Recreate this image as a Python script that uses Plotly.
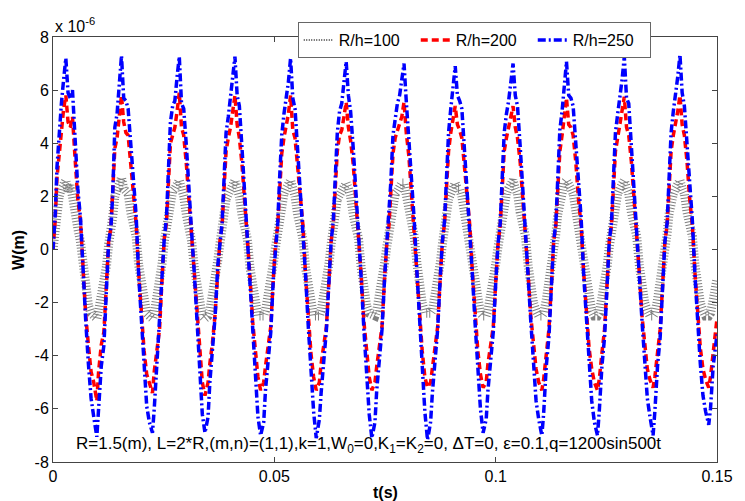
import plotly.graph_objects as go

# time samples (s)
t = [
    0.00000, 0.00050, 0.00090, 0.00140, 0.00190, 0.00240, 0.00290, 0.00340, 0.00390, 0.00440, 0.00500, 0.00560, 0.00620, 0.00680, 0.00740, 0.00800, 0.00860, 0.00920, 0.00990, 0.01030, 0.01090, 0.01150, 0.01210,
    0.01257, 0.01307, 0.01347, 0.01397, 0.01447, 0.01497, 0.01547, 0.01597, 0.01647, 0.01697, 0.01757, 0.01817, 0.01877, 0.01937, 0.01997, 0.02057, 0.02117, 0.02177, 0.02247, 0.02287, 0.02347, 0.02407, 0.02467,
    0.02513, 0.02563, 0.02603, 0.02653, 0.02703, 0.02753, 0.02803, 0.02853, 0.02903, 0.02953, 0.03013, 0.03073, 0.03133, 0.03193, 0.03253, 0.03313, 0.03373, 0.03433, 0.03503, 0.03543, 0.03603, 0.03663, 0.03723,
    0.03770, 0.03820, 0.03860, 0.03910, 0.03960, 0.04010, 0.04060, 0.04110, 0.04160, 0.04210, 0.04270, 0.04330, 0.04390, 0.04450, 0.04510, 0.04570, 0.04630, 0.04690, 0.04760, 0.04800, 0.04860, 0.04920, 0.04980,
    0.05027, 0.05077, 0.05117, 0.05167, 0.05217, 0.05267, 0.05317, 0.05367, 0.05417, 0.05467, 0.05527, 0.05587, 0.05647, 0.05707, 0.05767, 0.05827, 0.05887, 0.05947, 0.06017, 0.06057, 0.06117, 0.06177, 0.06237,
    0.06283, 0.06333, 0.06373, 0.06423, 0.06473, 0.06523, 0.06573, 0.06623, 0.06673, 0.06723, 0.06783, 0.06843, 0.06903, 0.06963, 0.07023, 0.07083, 0.07143, 0.07203, 0.07273, 0.07313, 0.07373, 0.07433, 0.07493,
    0.07540, 0.07590, 0.07630, 0.07680, 0.07730, 0.07780, 0.07830, 0.07880, 0.07930, 0.07980, 0.08040, 0.08100, 0.08160, 0.08220, 0.08280, 0.08340, 0.08400, 0.08460, 0.08530, 0.08570, 0.08630, 0.08690, 0.08750,
    0.08796, 0.08846, 0.08886, 0.08936, 0.08986, 0.09036, 0.09086, 0.09136, 0.09186, 0.09236, 0.09296, 0.09356, 0.09416, 0.09476, 0.09536, 0.09596, 0.09656, 0.09716, 0.09786, 0.09826, 0.09886, 0.09946, 0.10006,
    0.10053, 0.10103, 0.10143, 0.10193, 0.10243, 0.10293, 0.10343, 0.10393, 0.10443, 0.10493, 0.10553, 0.10613, 0.10673, 0.10733, 0.10793, 0.10853, 0.10913, 0.10973, 0.11043, 0.11083, 0.11143, 0.11203, 0.11263,
    0.11310, 0.11360, 0.11400, 0.11450, 0.11500, 0.11550, 0.11600, 0.11650, 0.11700, 0.11750, 0.11810, 0.11870, 0.11930, 0.11990, 0.12050, 0.12110, 0.12170, 0.12230, 0.12300, 0.12340, 0.12400, 0.12460, 0.12520,
    0.12566, 0.12616, 0.12656, 0.12706, 0.12756, 0.12806, 0.12856, 0.12906, 0.12956, 0.13006, 0.13066, 0.13126, 0.13186, 0.13246, 0.13306, 0.13366, 0.13426, 0.13486, 0.13556, 0.13596, 0.13656, 0.13716, 0.13776,
    0.13823, 0.13873, 0.13913, 0.13963, 0.14013, 0.14063, 0.14113, 0.14163, 0.14213, 0.14263, 0.14323, 0.14383, 0.14443, 0.14503, 0.14563, 0.14623, 0.14683, 0.14743, 0.14813, 0.14853, 0.14913, 0.14973, 0.15000,
]

# W (x 1e-6 m), R/h = 100
w_100 = [
    0.0, 0.9, 1.6, 2.0, 2.3, 2.6, 2.6, 2.2, 2.4, 2.0, 1.2, 0.8, 0.3, -0.8, -1.4, -2.1, -2.4, -2.5, -2.6, -2.3, -1.8, -1.3, -0.6,
    0.2, 0.6, 1.2, 2.0, 2.2, 2.5, 2.7, 2.3, 2.2, 2.1, 1.4, 0.9, 0.5, -0.6, -1.4, -2.0, -2.4, -2.5, -2.6, -2.4, -1.9, -1.3, -0.5,
    0.3, 0.8, 1.4, 2.0, 2.2, 2.3, 2.5, 2.6, 2.3, 2.0, 1.3, 0.8, 0.3, -0.7, -1.5, -2.1, -2.5, -2.6, -2.5, -2.3, -1.8, -1.1, -0.4,
    0.2, 0.6, 1.3, 1.9, 2.1, 2.3, 2.5, 2.6, 2.3, 2.0, 1.3, 0.8, 0.4, -0.7, -1.5, -2.1, -2.5, -2.5, -2.5, -2.3, -1.8, -1.2, -0.5,
    0.1, 0.6, 1.3, 1.9, 2.1, 2.3, 2.5, 2.6, 2.3, 2.0, 1.3, 0.8, 0.4, -0.7, -1.5, -2.1, -2.5, -2.5, -2.5, -2.3, -1.8, -1.2, -0.5,
    0.2, 0.6, 1.3, 1.9, 2.1, 2.3, 2.4, 2.5, 2.3, 2.0, 1.3, 0.8, 0.4, -0.7, -1.5, -2.1, -2.4, -2.5, -2.5, -2.3, -1.8, -1.2, -0.5,
    0.1, 0.6, 1.3, 1.8, 2.1, 2.2, 2.4, 2.5, 2.5, 2.1, 1.5, 0.9, 0.5, -0.5, -1.4, -2.0, -2.4, -2.4, -2.4, -2.3, -1.8, -1.2, -0.5,
    0.2, 0.6, 1.3, 1.9, 2.1, 2.4, 2.5, 2.3, 2.3, 2.0, 1.3, 0.8, 0.4, -0.7, -1.5, -2.1, -2.4, -2.5, -2.5, -2.3, -1.8, -1.2, -0.5,
    0.1, 0.6, 1.3, 1.9, 2.1, 2.3, 2.5, 2.6, 2.3, 2.1, 1.4, 0.9, 0.5, -0.6, -1.4, -2.0, -2.3, -2.5, -2.5, -2.4, -1.9, -1.3, -0.6,
    0.1, 0.6, 1.3, 1.9, 2.1, 2.5, 2.6, 2.3, 2.3, 2.1, 1.4, 0.9, 0.5, -0.6, -1.4, -2.0, -2.3, -2.5, -2.5, -2.4, -1.9, -1.3, -0.6,
    0.1, 0.6, 1.3, 1.9, 2.1, 2.3, 2.5, 2.6, 2.3, 2.1, 1.4, 0.9, 0.5, -0.6, -1.4, -2.0, -2.3, -2.5, -2.5, -2.4, -1.9, -1.3, -0.6,
    0.1, 0.6, 1.3, 1.9, 2.1, 2.3, 2.5, 2.6, 2.3, 2.1, 1.4, 0.9, 0.5, -0.6, -1.4, -2.0, -2.3, -2.5, -2.5, -2.4, -1.9, -1.3, -1.1,
]

# W (x 1e-6 m), R/h = 200
w_200 = [
    0.0, 1.1, 2.7, 3.7, 4.4, 5.3, 5.8, 4.8, 4.6, 5.0, 3.4, 1.9, 1.1, -0.9, -2.5, -3.6, -4.6, -5.0, -5.7, -4.6, -3.6, -3.1, -1.3,
    0.3, 0.8, 1.9, 3.8, 4.2, 5.1, 5.8, 4.8, 4.4, 4.3, 3.3, 2.0, 1.0, -0.9, -2.6, -3.8, -4.7, -5.0, -5.4, -4.6, -3.8, -3.0, -1.0,
    0.4, 1.0, 2.3, 4.0, 4.3, 4.6, 5.2, 5.9, 4.6, 4.3, 3.2, 1.8, 0.5, -0.9, -2.6, -3.8, -5.0, -5.5, -5.0, -4.3, -3.5, -2.4, -0.6,
    0.3, 0.9, 2.3, 3.7, 4.2, 4.6, 5.2, 5.8, 4.7, 4.2, 3.2, 1.8, 0.8, -1.0, -2.7, -3.9, -4.8, -5.3, -5.0, -4.4, -3.6, -2.9, -1.0,
    0.2, 0.9, 2.4, 3.6, 4.2, 4.6, 5.1, 5.8, 4.5, 4.2, 3.1, 1.9, 0.9, -1.0, -2.7, -3.9, -4.8, -5.3, -5.0, -4.3, -3.6, -2.9, -1.1,
    0.3, 1.0, 2.4, 3.7, 4.3, 4.5, 5.0, 5.55, 4.6, 4.1, 3.2, 1.8, 0.8, -1.0, -2.7, -3.9, -4.8, -5.3, -5.0, -4.4, -3.6, -2.9, -1.0,
    0.2, 0.9, 2.3, 3.6, 4.2, 4.5, 4.8, 5.0, 5.55, 4.4, 3.5, 2.0, 0.9, -0.8, -2.5, -3.8, -4.8, -5.2, -5.0, -4.4, -3.6, -2.9, -1.0,
    0.3, 1.0, 2.4, 3.7, 4.4, 5.0, 5.4, 4.7, 4.5, 4.2, 3.2, 1.9, 0.9, -0.9, -2.6, -3.8, -4.7, -5.2, -5.0, -4.3, -3.6, -2.9, -1.1,
    0.2, 0.9, 2.3, 3.7, 4.2, 4.6, 5.0, 5.4, 4.6, 4.2, 3.3, 1.9, 0.9, -0.9, -2.5, -3.7, -4.5, -5.0, -5.3, -4.9, -3.9, -3.0, -1.2,
    0.3, 0.9, 2.3, 3.7, 4.3, 5.1, 5.7, 4.7, 4.6, 4.3, 3.3, 1.9, 0.9, -0.9, -2.5, -3.7, -4.5, -5.0, -5.3, -4.9, -3.9, -3.0, -1.2,
    0.3, 0.9, 2.3, 3.7, 4.2, 4.7, 5.2, 5.75, 4.6, 4.3, 3.3, 1.9, 0.9, -0.9, -2.5, -3.7, -4.5, -4.9, -5.2, -4.8, -3.9, -3.0, -1.2,
    0.3, 0.9, 2.3, 3.7, 4.3, 4.7, 5.2, 5.8, 4.7, 4.3, 3.3, 1.9, 0.9, -0.9, -2.5, -3.7, -4.5, -4.9, -5.2, -4.8, -3.9, -3.0, -2.6,
]

# W (x 1e-6 m), R/h = 250
w_250 = [
    0.0, 1.3, 3.1, 4.5, 5.5, 6.4, 7.2, 5.9, 5.7, 6.0, 3.9, 2.3, 1.2, -1.0, -2.7, -4.3, -5.6, -6.3, -7.05, -6.0, -4.4, -3.6, -1.4,
    0.3, 0.8, 2.0, 4.6, 5.1, 6.2, 7.3, 5.7, 5.6, 5.3, 4.0, 2.4, 1.3, -1.0, -2.8, -4.5, -5.9, -6.5, -6.9, -6.0, -4.3, -3.0, -1.0,
    0.4, 1.2, 2.6, 4.8, 5.4, 5.6, 6.5, 7.26, 5.5, 5.3, 3.9, 2.0, 0.6, -0.9, -2.8, -4.4, -6.2, -6.9, -6.3, -5.0, -3.9, -2.5, -0.6,
    0.3, 1.0, 2.5, 4.4, 5.0, 5.7, 6.4, 7.26, 5.8, 5.4, 3.8, 2.1, 0.9, -1.1, -3.0, -4.6, -6.3, -7.0, -6.5, -5.3, -4.2, -3.1, -1.0,
    0.2, 1.0, 2.6, 4.3, 5.1, 5.6, 6.3, 7.2, 5.7, 5.3, 3.7, 2.2, 1.0, -1.0, -2.9, -4.5, -6.1, -7.1, -6.4, -5.4, -4.2, -3.0, -1.1,
    0.3, 1.1, 2.7, 4.4, 5.2, 5.5, 6.3, 7.07, 5.8, 5.2, 3.8, 2.2, 0.9, -1.1, -3.0, -4.6, -6.2, -7.1, -6.5, -5.3, -4.1, -3.0, -1.0,
    0.2, 1.0, 2.5, 4.3, 5.0, 5.5, 5.8, 6.3, 7.0, 5.6, 4.2, 2.4, 1.1, -0.8, -2.6, -4.4, -6.1, -7.17, -6.5, -5.4, -4.2, -3.0, -1.0,
    0.3, 1.1, 2.7, 4.4, 5.3, 6.2, 6.9, 5.8, 5.6, 5.3, 3.8, 2.2, 1.0, -1.0, -2.8, -4.4, -6.0, -6.9, -6.4, -5.3, -4.2, -3.1, -1.1,
    0.2, 1.0, 2.6, 4.4, 5.1, 5.6, 6.3, 7.0, 5.8, 5.4, 3.9, 2.3, 1.1, -1.0, -2.7, -4.3, -5.7, -6.4, -7.0, -6.2, -4.4, -3.3, -1.2,
    0.3, 1.0, 2.6, 4.5, 5.2, 6.3, 7.07, 5.8, 5.7, 5.4, 3.9, 2.3, 1.2, -1.0, -2.7, -4.3, -5.7, -6.5, -7.0, -6.1, -4.4, -3.3, -1.2,
    0.3, 1.0, 2.6, 4.4, 5.1, 5.7, 6.4, 7.26, 5.7, 5.5, 3.9, 2.2, 1.1, -1.0, -2.7, -4.3, -5.6, -6.3, -7.0, -6.1, -4.4, -3.3, -1.2,
    0.3, 1.0, 2.6, 4.4, 5.2, 5.8, 6.5, 7.33, 5.9, 5.4, 3.9, 2.3, 1.1, -1.0, -2.7, -4.3, -5.5, -6.1, -6.6, -6.0, -4.4, -3.4, -3.2,
]

series_names = ["R/h=100", "R/h=200", "R/h=250"]
x_ticks = [0, 0.05, 0.1, 0.15]
x_ticklabels = ["0", "0.05", "0.1", "0.15"]
y_ticks = [-8, -6, -4, -2, 0, 2, 4, 6, 8]
y_ticklabels = ["-8", "-6", "-4", "-2", "0", "2", "4", "6", "8"]

FONT = "Liberation Sans, Arial, sans-serif"

fig = go.Figure()
# legend-only sample for the dotted series
fig.add_trace(go.Scatter(x=[None], y=[None], mode="lines", name=series_names[0],
                         line=dict(color="#555555", width=2, dash="1px,1.5px")))
fig.add_trace(go.Scatter(x=t, y=w_100, mode="lines", name=series_names[0], showlegend=False,
                         line=dict(color="#808080", width=9, dash="1px,2px")))
fig.add_trace(go.Scatter(x=t, y=w_200, mode="lines", name=series_names[1],
                         line=dict(color="#FF0000", width=3.5, dash="7px,4px")))
fig.add_trace(go.Scatter(x=t, y=w_250, mode="lines", name=series_names[2],
                         line=dict(color="#0000FF", width=3.5, dash="8px,3px,2px,3px")))

axis_common = dict(showline=True, linecolor="#444444", linewidth=1, mirror="ticks",
                   ticks="inside", ticklen=5, tickcolor="#444444", showgrid=False,
                   zeroline=False, tickfont=dict(family=FONT, size=16, color="black"))

fig.update_layout(
    width=745, height=501,
    margin=dict(l=53, r=17, t=37, b=39),
    paper_bgcolor="white", plot_bgcolor="white",
    font=dict(family=FONT, size=16, color="black"),
    xaxis=dict(range=[0, 0.15], tickvals=x_ticks, ticktext=x_ticklabels, **axis_common),
    yaxis=dict(range=[-8, 8], tickvals=y_ticks, ticktext=y_ticklabels, **axis_common),
    legend=dict(orientation="h", x=0.3686, y=1.035, xanchor="left", yanchor="top",
                bgcolor="white", bordercolor="#666666", borderwidth=1,
                font=dict(family=FONT, size=16, color="black"),
                entrywidth=72, entrywidthmode="pixels"),
    showlegend=True,
)

fig.add_annotation(xref="paper", yref="paper", x=-0.052, y=0.5, text="<b>W(m)</b>",
                   textangle=-90, showarrow=False, xanchor="center", yanchor="middle",
                   font=dict(family=FONT, size=16, color="black"))
fig.add_annotation(xref="paper", yref="paper", x=0.5, y=-0.072, text="<b>t(s)</b>",
                   showarrow=False, xanchor="center", yanchor="middle",
                   font=dict(family=FONT, size=16, color="black"))
fig.add_annotation(xref="paper", yref="paper", x=0.0, y=1.0, text="x 10<sup>-6</sup>",
                   showarrow=False, xanchor="left", yanchor="bottom",
                   font=dict(family=FONT, size=16, color="black"))
fig.add_annotation(xref="paper", yref="paper", x=0.032, y=0.04,
                   text="R=1.5(m), L=2*R,(m,n)=(1,1),k=1,W<sub>0</sub>=0,K<sub>1</sub>=K<sub>2</sub>=0, ΔT=0, ε=0.1,q=1200sin500t",
                   showarrow=False, xanchor="left", yanchor="middle",
                   font=dict(family=FONT, size=17, color="black"))

fig.write_html("out.html")
